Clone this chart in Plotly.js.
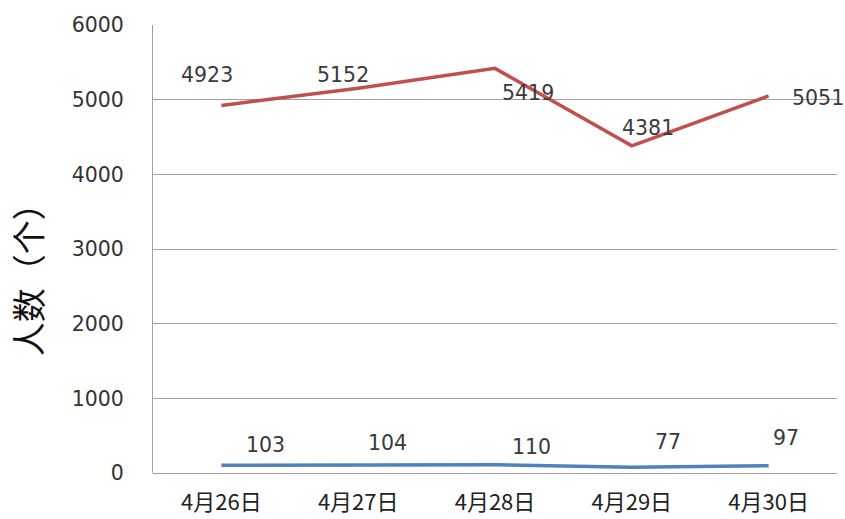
<!DOCTYPE html>
<html>
<head>
<meta charset="utf-8">
<script src="https://cdn.plot.ly/plotly-3.0.1.min.js"></script>
<style>html,body{margin:0;padding:0;background:#fff;}#chart{width:845px;height:519px;}</style>
</head>
<body>
<div id="chart"></div>
<script>
const categories = ["4月26日", "4月27日", "4月28日", "4月29日", "4月30日"];
const seriesTop = [4923, 5152, 5419, 4381, 5051];
const seriesBottom = [103, 104, 110, 77, 97];
const yTicks = [0, 1000, 2000, 3000, 4000, 5000, 6000];
const yTitle = "人数（个）";

// label pixel offsets (style only)
const topShift = [[-14, 30], [-15, 13], [33, -25], [16, 18], [49, -2]];
const bottomShift = [[44, 20], [29, 22], [36, 18], [36, 25], [17, 28]];

const labelFont = {family: "DejaVu Sans", size: 20.5, color: "#3a3a3a"};

const traces = [
  {x: categories, y: seriesTop, type: "scatter", mode: "lines",
   line: {color: "#c0504d", width: 3.5}, hoverinfo: "x+y"},
  {x: categories, y: seriesBottom, type: "scatter", mode: "lines",
   line: {color: "#4f81bd", width: 3.5}, hoverinfo: "x+y"}
];

const annotations = [];
categories.forEach((c, i) => {
  annotations.push({x: c, y: seriesTop[i], xref: "x", yref: "y", text: String(seriesTop[i]),
    showarrow: false, xshift: topShift[i][0], yshift: topShift[i][1], font: labelFont});
  annotations.push({x: c, y: seriesBottom[i], xref: "x", yref: "y", text: String(seriesBottom[i]),
    showarrow: false, xshift: bottomShift[i][0], yshift: bottomShift[i][1], font: labelFont});
});
annotations.push({x: -0.183, y: 0.45, xref: "paper", yref: "paper", text: yTitle,
  textangle: -90, showarrow: false, xanchor: "center", yanchor: "middle",
  font: {family: "Noto Sans CJK SC", size: 34, color: "#111"}});

const layout = {
  width: 845, height: 519,
  margin: {l: 153, r: 8, t: 25, b: 46, pad: 0},
  paper_bgcolor: "#fff", plot_bgcolor: "#fff",
  showlegend: false,
  xaxis: {type: "category", range: [-0.5, 4.5], showgrid: false, zeroline: false,
    showline: false, ticks: "", ticklabelstandoff: 14,
    tickfont: {family: "Noto Sans CJK SC", size: 22, color: "#222"}},
  yaxis: {range: [0, 6000], tickvals: yTicks, ticktext: yTicks.map(String),
    showgrid: true, gridcolor: "#a0a0a0", gridwidth: 1,
    zeroline: true, zerolinecolor: "#a0a0a0", zerolinewidth: 1,
    showline: true, linecolor: "#a0a0a0", linewidth: 1,
    ticks: "", ticklabelstandoff: 24,
    tickfont: {family: "DejaVu Sans", size: 20.5, color: "#333"}},
  annotations: annotations
};

Plotly.newPlot("chart", traces, layout, {displayModeBar: false, staticPlot: true});
</script>
</body>
</html>
